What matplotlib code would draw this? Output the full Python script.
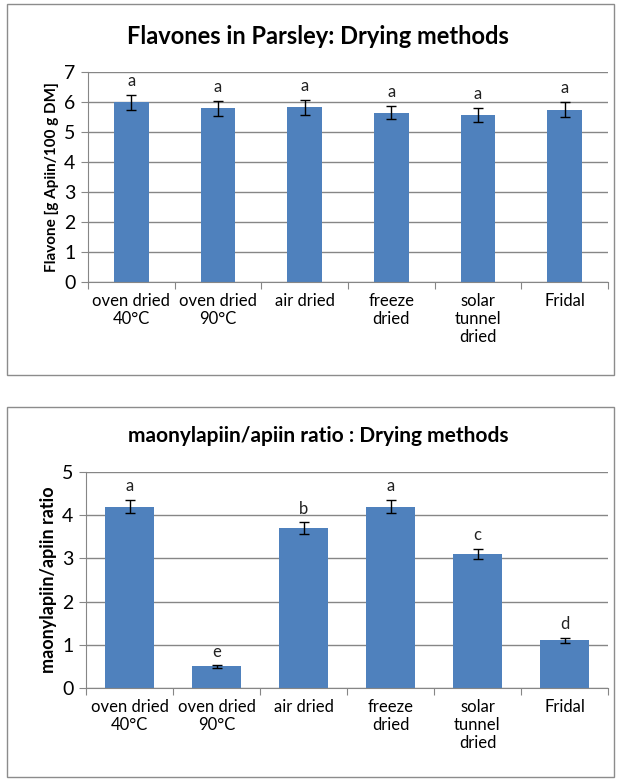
import matplotlib.pyplot as plt
import matplotlib.patches as patches

plt.rcParams['font.family'] = ['Lato', 'DejaVu Sans']

# Categorias (métodos de secagem)
metodos = ['oven dried\n40°C', 'oven dried\n90°C', 'air dried',
           'freeze\ndried', 'solar\ntunnel\ndried', 'Fridal']

# Gráfico 1: flavonas
flavona = [6.0, 5.8, 5.83, 5.65, 5.57, 5.75]
flavona_erro = [0.25, 0.25, 0.25, 0.22, 0.23, 0.25]
flavona_letras = ['a', 'a', 'a', 'a', 'a', 'a']

# Gráfico 2: razão malonilapiina/apiina
razao = [4.2, 0.5, 3.7, 4.2, 3.1, 1.1]
razao_erro = [0.16, 0.03, 0.14, 0.16, 0.12, 0.06]
razao_letras = ['a', 'e', 'b', 'a', 'c', 'd']

cor_barra = '#4F81BD'
cor_eixo = '#868686'

fig = plt.figure(figsize=(6.18, 7.8), dpi=100)

# molduras dos dois gráficos
for y0, h in [(1 - 375 / 780, 371 / 780), (1 - 777 / 780, 370 / 780)]:
    fig.patches.append(patches.Rectangle((7 / 618, y0), 607 / 618, h,
                                         transform=fig.transFigure,
                                         fill=False, edgecolor='#8c8c8c', linewidth=1))


def desenha(ax, valores, erros, letras, ymax, largura, titulo, tam_titulo,
            rotulo_y, tam_rotulo, y_titulo):
    x = list(range(len(metodos)))
    ax.bar(x, valores, width=largura, color=cor_barra, zorder=2)
    ax.errorbar(x, valores, yerr=erros, fmt='none', ecolor='black',
                elinewidth=1, capsize=3.5, capthick=1, zorder=3)
    for xi, v, e, l in zip(x, valores, erros, letras):
        ax.annotate(l, (xi, v + e), xytext=(0, 4), textcoords='offset points',
                    ha='center', va='bottom', fontsize=12, color='#222222')
    ax.set_xlim(-0.5, len(metodos) - 0.5)
    ax.set_ylim(0, ymax)
    ax.set_yticks(range(ymax + 1))
    ax.yaxis.grid(True, color=cor_eixo, linewidth=1, zorder=0)
    ax.set_axisbelow(True)
    # marcas entre categorias, rótulos no centro
    ax.set_xticks([i - 0.5 for i in range(len(metodos) + 1)])
    ax.set_xticklabels([])
    ax.set_xticks(x, minor=True)
    ax.set_xticklabels(metodos, minor=True, fontsize=12, linespacing=1.15)
    ax.tick_params(axis='x', which='major', length=5, direction='out', color=cor_eixo)
    ax.tick_params(axis='x', which='minor', length=0, pad=8)
    ax.tick_params(axis='y', length=5, direction='out', color=cor_eixo, labelsize=14, pad=4)
    for s in ['top', 'right']:
        ax.spines[s].set_visible(False)
    for s in ['left', 'bottom']:
        ax.spines[s].set_color(cor_eixo)
    ax.set_ylabel(rotulo_y, fontsize=tam_rotulo, fontweight='bold', labelpad=4)
    fig.text(0.515, y_titulo, titulo, ha='center', va='center',
             fontsize=tam_titulo, fontweight='bold')


ax1 = fig.add_axes([88 / 618, 1 - 282 / 780, 520 / 618, 210 / 780])
desenha(ax1, flavona, flavona_erro, flavona_letras, 7, 0.4,
        'Flavones in Parsley: Drying methods', 17,
        'Flavone [g Apiin/100 g DM]', 11, 1 - 36 / 780)

ax2 = fig.add_axes([86 / 618, 1 - 688 / 780, 522 / 618, 216 / 780])
desenha(ax2, razao, razao_erro, razao_letras, 5, 0.56,
        'maonylapiin/apiin ratio : Drying methods', 15,
        'maonylapiin/apiin ratio', 13, 1 - 436 / 780)

plt.savefig('out.png', dpi=100)
